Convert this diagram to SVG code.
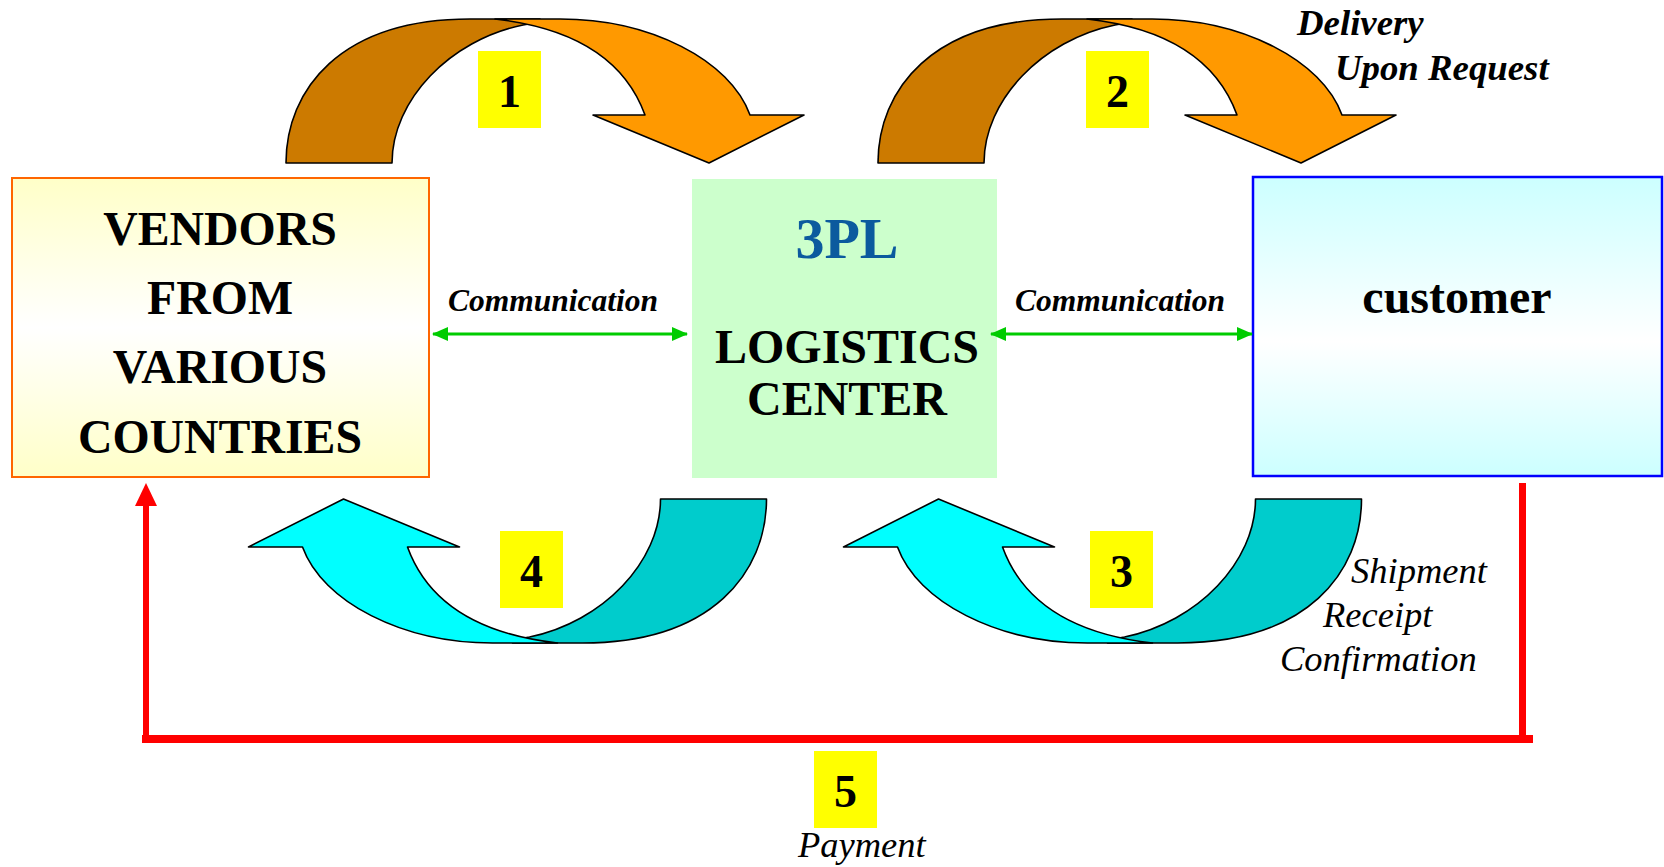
<svg xmlns="http://www.w3.org/2000/svg" xmlns:xlink="http://www.w3.org/1999/xlink" width="1664" height="867" viewBox="0 0 1664 867">
<style>
.bt{font-family:"Liberation Serif","Times New Roman",serif;font-weight:bold;fill:#000}
.bi{font-family:"Liberation Serif","Times New Roman",serif;font-weight:bold;font-style:italic;fill:#000}
.it{font-family:"Liberation Serif","Times New Roman",serif;font-style:italic;fill:#000}
.arw{stroke:#000;stroke-width:1.6;stroke-linejoin:round}
.num{fill:#FFFF00}
.grn{stroke:#00CC00;stroke-width:3;fill:none}
</style>
<defs>
<linearGradient id="gy" x1="0" y1="0" x2="0" y2="1">
<stop offset="0" stop-color="#FFFFC8"/><stop offset="0.5" stop-color="#FFFFFF"/><stop offset="1" stop-color="#FFFFC8"/>
</linearGradient>
<linearGradient id="gc" x1="0" y1="0" x2="0" y2="1">
<stop offset="0" stop-color="#CCFFFF"/><stop offset="0.55" stop-color="#FFFFFF"/><stop offset="1" stop-color="#CCFFFF"/>
</linearGradient>
<path id="back" d="M286,163 C286,90 340,19 470,19 L540,19 L540,22 L523,25 C450,40 392,100 392,163 Z"/>
<path id="front" d="M495,19 L560,19 C650,19 730,60 750,115 L804,115 L709,163 L593,115 L645,115 C625,60 575,28 495,19 Z"/>
<marker id="gh" markerWidth="16" markerHeight="14" refX="15" refY="7" orient="auto-start-reverse" markerUnits="userSpaceOnUse">
<path d="M0,0 L16,7 L0,14 Z" fill="#00CC00"/>
</marker>
</defs>
<rect width="1664" height="867" fill="#FFFFFF"/>

<g id="vendors">
<rect x="12" y="178" width="417" height="299" fill="url(#gy)" stroke="#FF6600" stroke-width="2"/>
<text class="bt" font-size="47.8" text-anchor="middle" x="220" y="245">VENDORS</text>
<text class="bt" font-size="47.8" text-anchor="middle" x="220" y="314">FROM</text>
<text class="bt" font-size="47.8" text-anchor="middle" x="220" y="383">VARIOUS</text>
<text class="bt" font-size="47.8" text-anchor="middle" x="220" y="453">COUNTRIES</text>
</g>

<g id="logistics-center">
<rect x="692" y="179" width="305" height="299" fill="#CCFFCC"/>
<text class="bt" font-size="58" text-anchor="middle" x="847" y="258" style="fill:#0B5A9E">3PL</text>
<text class="bt" font-size="48" text-anchor="middle" x="847" y="363">LOGISTICS</text>
<text class="bt" font-size="48" text-anchor="middle" x="847" y="415">CENTER</text>
</g>

<g id="customer">
<rect x="1253" y="177" width="409" height="299" fill="url(#gc)" stroke="#0000FF" stroke-width="2.5"/>
<text class="bt" font-size="48" text-anchor="middle" x="1457" y="313">customer</text>
</g>

<g id="connectors">
<g id="flow1">
<use xlink:href="#back" class="arw" fill="#CC7A00"/>
<use xlink:href="#front" class="arw" fill="#FF9900"/>
</g>
<g id="flow2" transform="translate(592,0)">
<use xlink:href="#back" class="arw" fill="#CC7A00"/>
<use xlink:href="#front" class="arw" fill="#FF9900"/>
</g>
<g id="flow4" transform="translate(1052.5,662) rotate(180)">
<use xlink:href="#back" class="arw" fill="#00CCCC"/>
<use xlink:href="#front" class="arw" fill="#00FFFF"/>
</g>
<g id="flow3" transform="translate(1647.5,662) rotate(180)">
<use xlink:href="#back" class="arw" fill="#00CCCC"/>
<use xlink:href="#front" class="arw" fill="#00FFFF"/>
</g>
<line class="grn" x1="433" y1="334" x2="687" y2="334" marker-start="url(#gh)" marker-end="url(#gh)"/>
<line class="grn" x1="991" y1="334" x2="1252" y2="334" marker-start="url(#gh)" marker-end="url(#gh)"/>
<g id="payment" fill="#FF0000">
<rect x="1519" y="483" width="7" height="258"/>
<rect x="142" y="735" width="1391" height="8"/>
<rect x="143" y="500" width="6" height="241"/>
<path d="M146,483 L157,506 L135,506 Z"/>
</g>
</g>

<g id="labels">
<text class="bi" font-size="36.8" x="1297" y="35">Delivery</text>
<text class="bi" font-size="36.8" x="1335" y="80">Upon Request</text>
<text class="bi" font-size="31.5" text-anchor="middle" x="553" y="311">Communication</text>
<text class="bi" font-size="31.5" text-anchor="middle" x="1120" y="311">Communication</text>
<text class="it" font-size="36.5" x="1351" y="583">Shipment</text>
<text class="it" font-size="36.5" x="1323" y="627">Receipt</text>
<text class="it" font-size="36.5" x="1280" y="671">Confirmation</text>
<text class="it" font-size="36.5" x="798" y="857">Payment</text>
</g>

<g id="step1"><rect class="num" x="478" y="51" width="63" height="77"/><text class="bt" font-size="46" text-anchor="middle" x="509.5" y="107">1</text></g>
<g id="step2"><rect class="num" x="1086" y="51" width="63" height="77"/><text class="bt" font-size="46" text-anchor="middle" x="1117.5" y="107">2</text></g>
<g id="step3"><rect class="num" x="1090" y="531" width="63" height="77"/><text class="bt" font-size="46" text-anchor="middle" x="1121.5" y="587">3</text></g>
<g id="step4"><rect class="num" x="500" y="531" width="63" height="77"/><text class="bt" font-size="46" text-anchor="middle" x="531.5" y="587">4</text></g>
<g id="step5"><rect class="num" x="814" y="751" width="63" height="77"/><text class="bt" font-size="46" text-anchor="middle" x="845.5" y="807">5</text></g>
</svg>
